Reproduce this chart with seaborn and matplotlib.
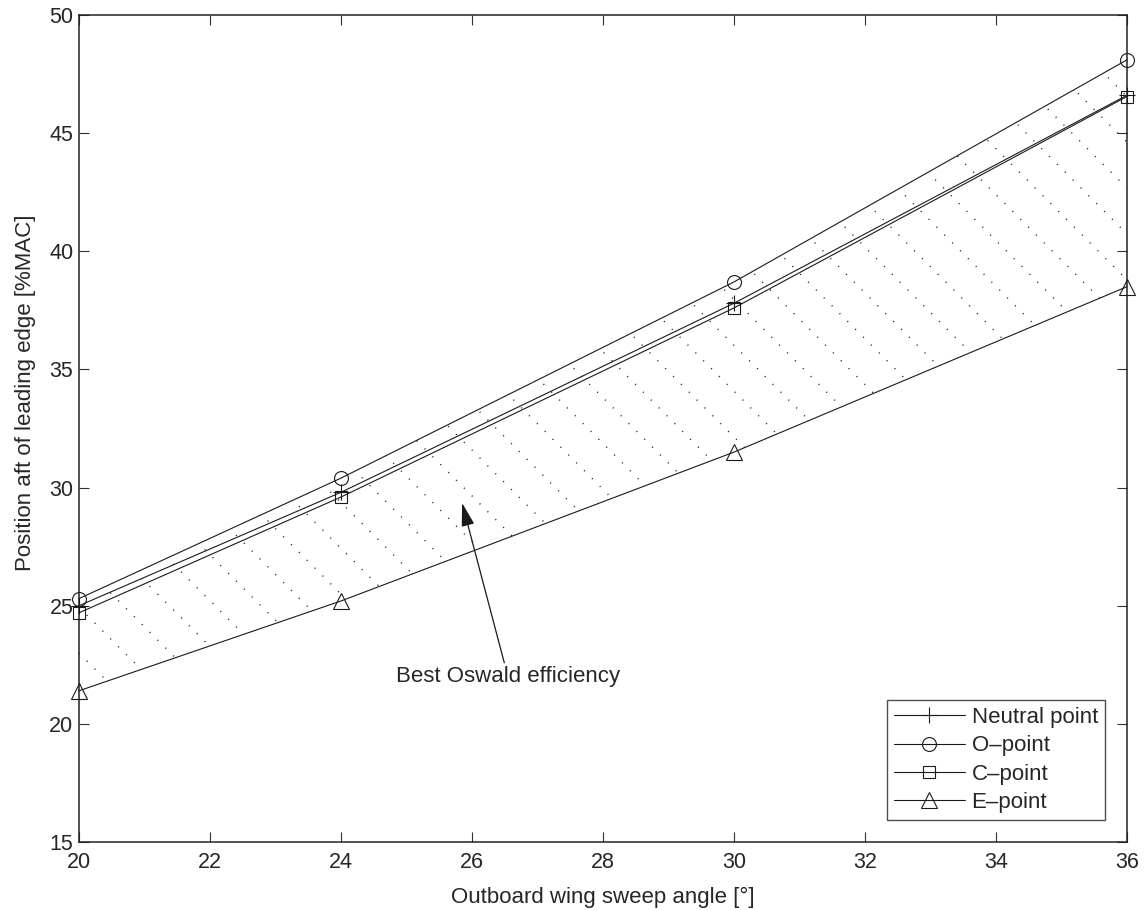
#!/usr/bin/env python3
"""Neutral point and O/C/E points vs outboard wing sweep angle."""

import numpy as np
import pandas as pd
import matplotlib
matplotlib.use("Agg")
import matplotlib.pyplot as plt
import seaborn as sns

# values
sweep = [20, 24, 30, 36]
neutral_point = [25.0, 29.8, 37.8, 46.6]
o_point = [25.3, 30.4, 38.7, 48.1]
c_point = [24.7, 29.6, 37.6, 46.55]
e_point = [21.4, 25.2, 31.5, 38.5]

series_labels = ["Neutral point", "O\u2013point", "C\u2013point", "E\u2013point"]
x_ticks = [20, 22, 24, 26, 28, 30, 32, 34, 36]
y_ticks = [15, 20, 25, 30, 35, 40, 45, 50]

annot_text = "Best Oswald efficiency"
annot_tip = (25.85, 29.35)
annot_base = (26.55, 22.45)

sns.set_theme(style="ticks")
plt.rcParams['font.family'] = ['Liberation Sans', 'DejaVu Sans']

df = pd.DataFrame({
    'sweep': sweep * 4,
    'pos': neutral_point + o_point + c_point + e_point,
    'series': np.repeat(series_labels, len(sweep)),
})

fig = plt.figure(figsize=(11.44, 9.10), dpi=100)
ax = fig.add_axes([0.069, 0.0747, 0.916, 0.9088])

styles = {
    series_labels[0]: dict(marker='+', ms=11, mew=0.8),
    series_labels[1]: dict(marker='o', ms=10, mew=0.8),
    series_labels[2]: dict(marker='s', ms=8, mew=0.8),
    series_labels[3]: dict(marker='^', ms=11, mew=0.8),
}
for name in series_labels:
    sub = df[df['series'] == name]
    sns.lineplot(data=sub, x='sweep', y='pos', ax=ax, color='#1a1a1a', lw=0.8,
                 mfc='none', mec='#1a1a1a', label=name, clip_on=False,
                 zorder=3, **styles[name])

ax.set_xlim(20, 36)
ax.set_ylim(15, 50)
ax.set_xticks(x_ticks)
ax.set_yticks(y_ticks)

# dotted diagonal hatch between O-point and E-point curves
band = ax.fill_between(sweep, e_point, o_point, facecolor='none', edgecolor='none')
clip = band.get_paths()[0]
bbox = ax.get_position()
px_x = bbox.width * fig.get_figwidth() / 16.0
px_y = bbox.height * fig.get_figheight() / 35.0
k = px_x / px_y            # slope for 45 deg on screen
step = 0.70                # horizontal spacing in x units
xs = np.array([20.0, 36.0])
for c in np.arange(23.0 - 30 * step * k, 52.0 + 16 * k, step * k):
    ln, = ax.plot(xs, c - k * (xs - 20.0), color='#222222', lw=1.0,
                  ls=(0, (0.8, 7.2)), zorder=1)
    ln.set_clip_path(clip, ax.transData)

ax.annotate(annot_text, xy=annot_tip, xytext=annot_base, textcoords='data',
            ha='center', va='top', fontsize=16,
            arrowprops=dict(arrowstyle='-|>,head_length=0.9,head_width=0.25',
                            color='k', lw=0.9, shrinkA=0, shrinkB=0))

ax.set_xlabel("Outboard wing sweep angle [\u00b0]", fontsize=16, labelpad=10)
ax.set_ylabel("Position aft of leading edge [%MAC]", fontsize=16)
ax.yaxis.set_label_coords(-0.041, 0.543)
ax.tick_params(direction='in', top=True, right=True, length=7, width=0.8,
               labelsize=15.5, color='#333333')
ax.tick_params(axis='x', pad=7)
ax.tick_params(axis='y', pad=4)
for sp in ax.spines.values():
    sp.set_linewidth(1.1)
    sp.set_color('#222222')

leg = ax.legend(loc='lower right', numpoints=1, handlelength=3.2, fontsize=16,
                frameon=True, fancybox=False, borderaxespad=1.0,
                labelspacing=0.33, handletextpad=0.3, borderpad=0.3)
leg.get_frame().set_edgecolor('#222222')
leg.get_frame().set_linewidth(1.0)

plt.savefig('out.png', dpi=100)
plt.close()
